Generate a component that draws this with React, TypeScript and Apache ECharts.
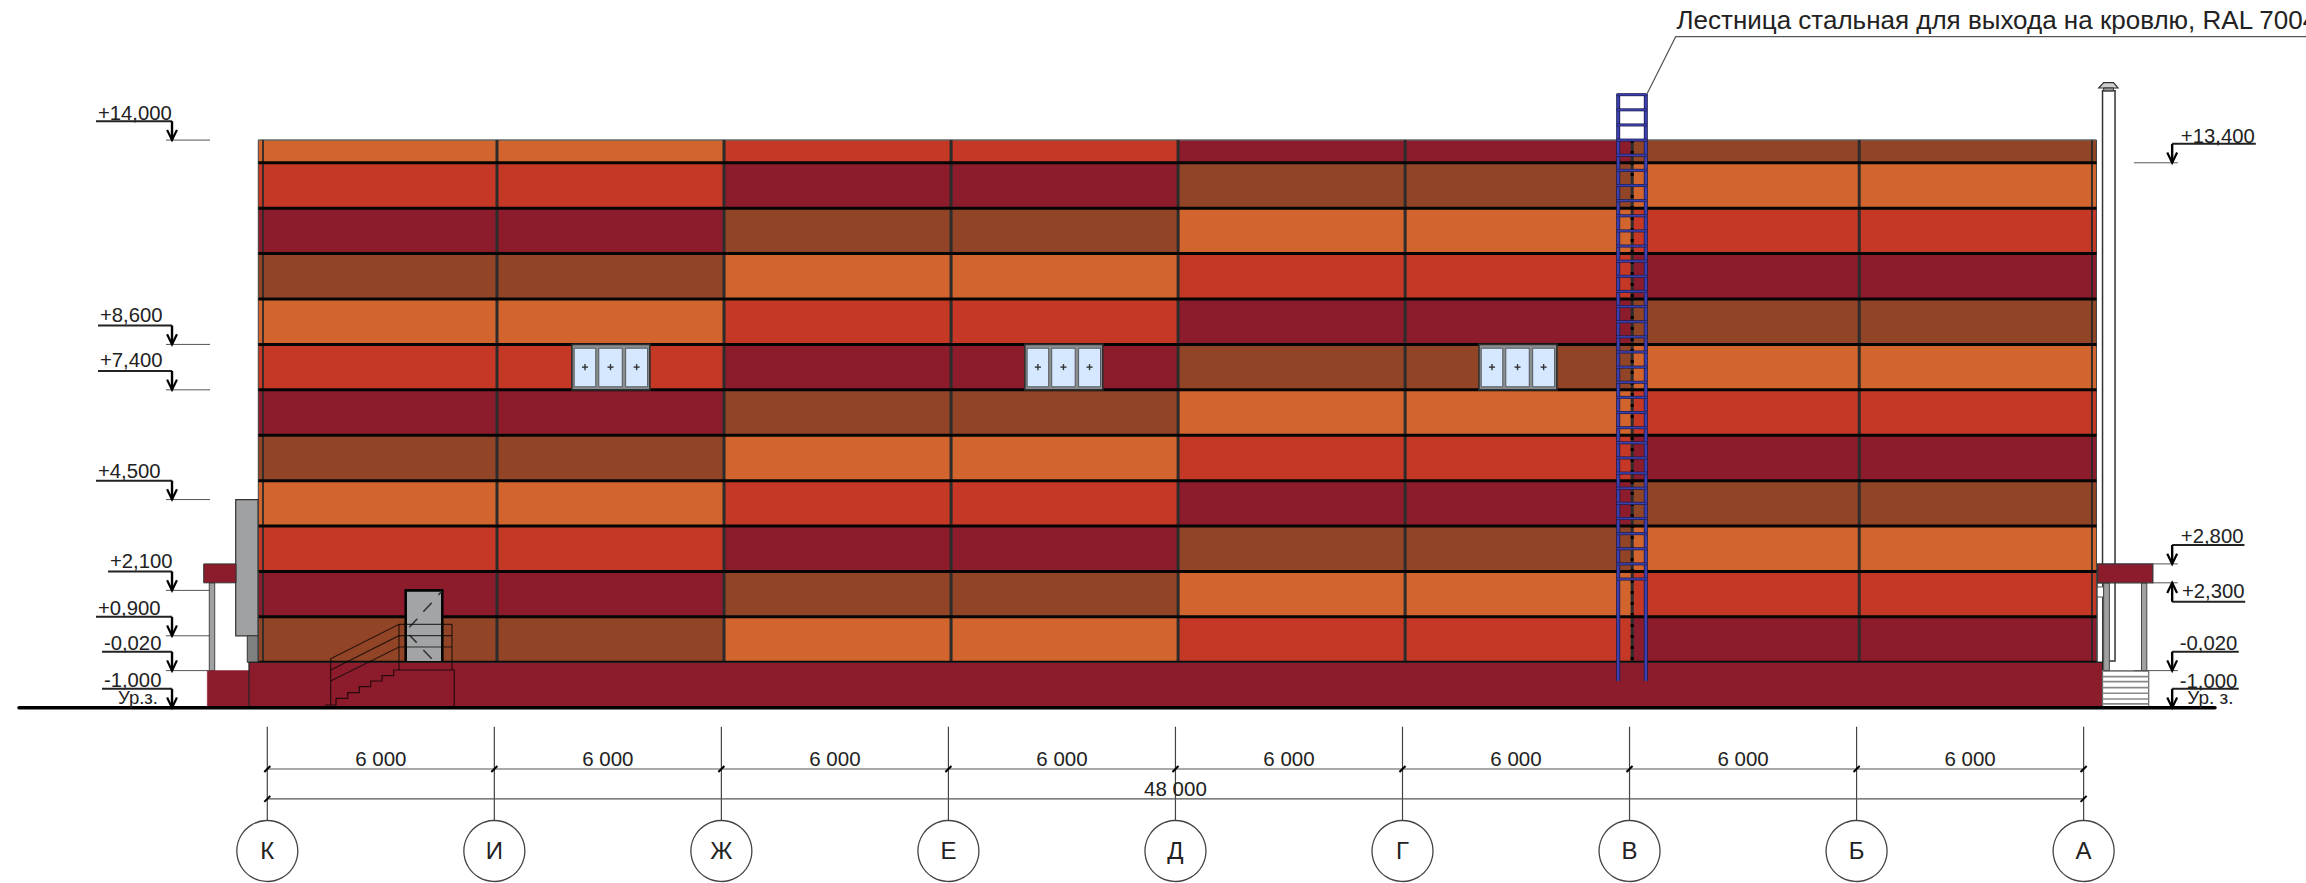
import React, { useEffect, useRef } from "react";
import * as echarts from "echarts";

// All geometry is in building metres: x = distance from axis К, y = elevation.
const FONT = '"Liberation Sans", Arial, sans-serif';
const PALETTE = { O: "#D2642D", R: "#C43825", M: "#8C1C2C", B: "#924427" } as Record<string, string>;
const paletteKeys = ["O", "R", "M", "B"];

const axisLetters = ["К", "И", "Ж", "Е", "Д", "Г", "В", "Б", "А"];
const axisPositions = [0, 6, 12, 18, 24, 30, 36, 42, 48];
const bayDimLabels = ["6 000", "6 000", "6 000", "6 000", "6 000", "6 000", "6 000", "6 000"];
const bayDimCentres = [3, 9, 15, 21, 27, 33, 39, 45];
const totalDimLabel = "48 000";

const panelLevels = [14, 13.4, 12.2, 11, 9.8, 8.6, 7.4, 6.2, 5, 3.8, 2.6, 1.4, 0.2];
const panelEdges = [-0.238, 12.07, 24.07, 36.07, 48.34];
const bayLines = [6.07, 12.07, 18.07, 24.07, 30.07, 36.07, 42.07];
const rowColours = [
  ["O", "R", "M", "B"],
  ["R", "M", "B", "O"],
  ["M", "B", "O", "R"],
  ["B", "O", "R", "M"],
  ["O", "R", "M", "B"],
  ["R", "M", "B", "O"],
  ["M", "B", "O", "R"],
  ["B", "O", "R", "M"],
  ["O", "R", "M", "B"],
  ["R", "M", "B", "O"],
  ["M", "B", "O", "R"],
  ["B", "O", "R", "M"],
];

const windowCentres = [9.08, 21.05, 33.05];
const paneOffsets = [[-0.97, -0.4], [-0.32, 0.3], [0.39, 0.97]];

const leftLabels = ["+14,000", "+8,600", "+7,400", "+4,500", "+2,100", "+0,900", "-0,020", "-1,000"];
const leftLevels = [14, 8.6, 7.4, 4.5, 2.1, 0.9, -0.02, -1];
const leftShelfStart = [-4.527, -4.474, -4.474, -4.527, -4.21, -4.527, -4.368, -4.368];
const leftTextRise = [0.53, 0.6, 0.6, 0.57, 0.58, 0.55, 0.545, 0.54];
const rightLabels = ["+13,400", "+2,800", "+2,300", "-0,020", "-1,000"];
const rightLevels = [13.4, 2.8, 2.3, -0.02, -1];
const rightShelfEnd = [52.55, 52.25, 52.27, 52.1, 52.1];
const rightLevelLineStart = [49.33, 49.83, 49.83, 49.33, 50.1];
const rightTextBaseline = [13.92, 3.36, 1.9, 0.525, -0.47];
const rightTextStart = [50.57, 50.57, 50.6, 50.54, 50.54];

const ladderRungs = [15.2, 14.8, 14.4, 14, 13.6, 13.2, 12.8, 12.4, 12, 11.6, 11.2, 10.8, 10.4, 10, 9.6, 9.2, 8.8, 8.4, 8, 7.6, 7.2, 6.8, 6.4, 6, 5.6, 5.2, 4.8, 4.4, 4, 3.6, 3.2, 2.8, 2.4];
const ladderRails = [35.7, 36.43];
const stairHatch = [-0.03, -0.18, -0.31, -0.47, -0.62, -0.77, -0.9];

const stepOutline = [
  [1.525, -0.929], [1.816, -0.929], [1.816, -0.752], [2.125, -0.752], [2.125, -0.603], [2.431, -0.603],
  [2.431, -0.445], [2.732, -0.445], [2.732, -0.295], [3.031, -0.295], [3.031, -0.154], [3.34, -0.154],
  [3.34, -0.004], [4.94, -0.004], [4.94, -0.98],
];
const handrails = [
  [[1.675, 0.295], [3.48, 1.204], [4.881, 1.204]],
  [[1.675, -0.004], [3.48, 0.903], [4.881, 0.903]],
  [[1.675, -0.295], [3.48, 0.604], [4.881, 0.604]],
];
const railPosts = [
  [1.675, 0.295, 1.675, -0.929],
  [3.48, 1.204, 3.48, -0.004],
  [4.881, 1.204, 4.881, -0.004],
];
const doorSwing = [
  [4.519, 1.978, 4.609, 2.066], [4.123, 1.537, 4.345, 1.775], [3.753, 1.125, 3.964, 1.352],
  [3.753, 0.921, 3.948, 0.718], [4.123, 0.525, 4.345, 0.295], [4.503, 0.102, 4.59, -0.004],
];

const leaderPath = [[36.46, 15.218], [37.22, 16.733], [53.9, 16.733]];
const leaderText = "Лестница стальная для выхода на кровлю, RAL 7004";

const X_MIN = -7.064, X_MAX = 53.877, Y_MIN = -5.633, Y_MAX = 17.702;

const rects = (data: number[][], style: any) => ({
  type: "custom", silent: true, clip: false, data,
  renderItem: (_p: any, api: any) => {
    const a = api.coord([api.value(0), api.value(1)]);
    const b = api.coord([api.value(2), api.value(3)]);
    return {
      type: "rect",
      shape: { x: Math.min(a[0], b[0]), y: Math.min(a[1], b[1]), width: Math.abs(a[0] - b[0]), height: Math.abs(a[1] - b[1]) },
      style: { ...style, fill: data[0].length > 4 ? PALETTE[paletteKeys[api.value(4)]] : style.fill },
    };
  },
});
const segs = (data: number[][], style: any) => ({
  type: "custom", silent: true, clip: false, data,
  renderItem: (_p: any, api: any) => {
    const a = api.coord([api.value(0), api.value(1)]);
    const b = api.coord([api.value(2), api.value(3)]);
    return { type: "line", shape: { x1: a[0], y1: a[1], x2: b[0], y2: b[1] }, style: { fill: null, ...style } };
  },
});
const polys = (paths: number[][][], style: any, kind = "polyline") => ({
  type: "custom", silent: true, clip: false, data: paths.map((p) => p[0]),
  renderItem: (p: any, api: any) => ({
    type: kind,
    shape: { points: paths[p.dataIndex].map((pt) => api.coord(pt)) },
    style: kind === "polyline" ? { fill: null, ...style } : style,
  }),
});
const circles = (data: number[][], r: number, style: any) => ({
  type: "custom", silent: true, clip: false, data,
  renderItem: (_p: any, api: any) => {
    const a = api.coord([api.value(0), api.value(1)]);
    return { type: "circle", shape: { cx: a[0], cy: a[1], r }, style };
  },
});
// y of a text item is its baseline elevation
const texts = (data: number[][], labels: string[], size: number, align: string, colour = "#222") => ({
  type: "custom", silent: true, clip: false, data,
  renderItem: (p: any, api: any) => {
    const a = api.coord([api.value(0), api.value(1)]);
    return {
      type: "text",
      style: {
        x: a[0], y: a[1] - 0.35 * size, text: labels[p.dataIndex],
        font: `${size}px ${FONT}`, fill: colour, align, verticalAlign: "middle",
      },
    };
  },
});
const arrow = (x: number, y: number, dir: number) => [[x - 0.13, y + dir * 0.27], [x, y], [x + 0.13, y + dir * 0.27]];

function buildSeries() {
  const panels: number[][] = [];
  rowColours.forEach((row, r) =>
    row.forEach((c, i) =>
      panels.push([panelEdges[i], panelLevels[r], panelEdges[i + 1], panelLevels[r + 1], paletteKeys.indexOf(c)])
    )
  );
  const joints = panelLevels.slice(1).map((y) => [-0.238, y, 48.34, y]);
  const bays = bayLines.map((x) => [x, 14, x, 0.2]);

  const frames = windowCentres.map((c) => [c - 1.03, 8.6, c + 1.03, 7.4]);
  const panes: number[][] = [];
  const crossH: number[][] = [];
  const crossV: number[][] = [];
  windowCentres.forEach((c) =>
    paneOffsets.forEach(([a, b]) => {
      panes.push([c + a, 8.5, c + b, 7.48]);
      const m = c + (a + b) / 2;
      crossH.push([m - 0.08, 8, m + 0.08, 8]);
      crossV.push([m, 8.08, m, 7.92]);
    })
  );

  const lShelf = leftLevels.map((y, i) => [leftShelfStart[i], y + 0.5, -2.518, y + 0.5]);
  const lDrop = leftLevels.map((y) => [-2.518, y + 0.5, -2.518, y]);
  const lLine = leftLevels.filter((y) => y !== -1).map((y) => [-2.677, y, -1.514, y]);
  const lArrows = leftLevels.map((y) => arrow(-2.518, y, 1));
  const lText = leftLevels.map((y, i) => [leftShelfStart[i] + 0.05, y + leftTextRise[i]]);

  const rDir = rightLevels.map((y) => (y === 2.3 ? -1 : 1));
  const rShelf = rightLevels.map((y, i) => [50.34, y + rDir[i] * 0.5, rightShelfEnd[i], y + rDir[i] * 0.5]);
  const rDrop = rightLevels.map((y, i) => [50.34, y + rDir[i] * 0.5, 50.34, y]);
  const rLine = rightLevels.filter((y) => y !== -1).map((y, i) => [rightLevelLineStart[i], y, 50.49, y]);
  const rArrows = rightLevels.map((y, i) => arrow(50.34, y, rDir[i]));
  const rText = rightLevels.map((_y, i) => [rightTextStart[i], rightTextBaseline[i]]);

  const dimVert = axisPositions.map((x) => [x, -1.502, x, -3.98]);
  const dimTicks: number[][] = [];
  axisPositions.forEach((x) => dimTicks.push([x - 0.08, -2.7, x + 0.08, -2.54]));
  dimTicks.push([-0.08, -3.49, 0.08, -3.33], [47.92, -3.49, 48.08, -3.33]);

  return [
    // chimney and gap
    rects([[48.5, 15.306, 48.83, 0.234]], { fill: "#fff", stroke: "#333", lineWidth: 1.5 }),
    polys([[[48.4, 15.377], [48.53, 15.52], [48.79, 15.52], [48.91, 15.377]]], { fill: "#cfcfcf", stroke: "#333", lineWidth: 1.2 }, "polygon"),
    rects([[48.53, 15.377, 48.79, 15.3]], { fill: "#999", stroke: "#333", lineWidth: 1 }),
    rects([[48.36, 2.3, 48.5, 0.2]], { fill: "#fff", stroke: "#333", lineWidth: 1 }),
    rects([[48.36, 2.19, 48.53, 1.925]], { fill: "#fff", stroke: "#555", lineWidth: 1 }),
    // facade
    rects(panels, { lineWidth: 0 }),
    segs([[-0.238, 14, 48.34, 14]], { stroke: "#666", lineWidth: 1.5 }),
    segs([[-0.114, 14, -0.114, 0.2], [48.22, 14, 48.22, 0.2]], { stroke: "#2a2a2a", lineWidth: 1.8 }),
    segs([[-0.238, 14, -0.238, 0.2], [48.34, 14, 48.34, 0.2]], { stroke: "#444", lineWidth: 1 }),
    segs(bays, { stroke: "#2c2c2c", lineWidth: 3 }),
    segs([[36.07, 14, 36.07, 0.2]], { stroke: "#000", lineWidth: 3, lineDash: [3, 8] }),
    segs(joints, { stroke: "#050505", lineWidth: 3 }),
    // windows
    rects(frames, { fill: "#8b8e90", stroke: "#2e2e2e", lineWidth: 1.6 }),
    rects(panes, { fill: "#D6E8FF", stroke: "#55595c", lineWidth: 1 }),
    segs(crossH, { stroke: "#333", lineWidth: 1.4 }),
    segs(crossV, { stroke: "#333", lineWidth: 1.4 }),
    // left annex
    rects([[-0.835, 4.5, -0.246, 0.9]], { fill: "#A0A1A3", stroke: "#333", lineWidth: 1.2 }),
    rects([[-0.529, 0.9, -0.246, 0.2]], { fill: "#7f8180", stroke: "#333", lineWidth: 1 }),
    rects([[-1.533, 2.3, -1.39, -0.02]], { fill: "#A0A1A3", stroke: "#444", lineWidth: 1 }),
    rects([[-1.68, 2.8, -0.827, 2.3]], { fill: PALETTE.M, stroke: "#333", lineWidth: 1 }),
    // door
    rects([[3.657, 2.1, 4.625, 0.2]], { fill: "#A3A4A6", stroke: "#050505", lineWidth: 2.6 }),
    segs(doorSwing, { stroke: "#333", lineWidth: 1.6 }),
    // plinth
    rects([[-1.586, -0.02, -0.484, -1]], { fill: PALETTE.M, stroke: PALETTE.M, lineWidth: 0.5 }),
    rects([[-0.484, 0.2, 48.5, -1]], { fill: PALETTE.M, stroke: "#222", lineWidth: 1.2 }),
    // porch stair
    polys([stepOutline], { stroke: "rgba(20,5,8,0.85)", lineWidth: 1.2 }),
    polys(handrails, { stroke: "rgba(10,5,5,0.75)", lineWidth: 1.2 }),
    segs(railPosts, { stroke: "rgba(10,5,5,0.75)", lineWidth: 1.2 }),
    // right porch
    rects([[48.5, -0.02, 49.72, -1]], { fill: "#fff", stroke: "#666", lineWidth: 1.2 }),
    segs(stairHatch.map((y) => [48.5, y, 49.72, y]), { stroke: "#888", lineWidth: 1.6 }),
    rects([[48.53, 2.3, 48.68, -0.02], [49.53, 2.3, 49.67, -0.02]], { fill: "#A0A1A3", stroke: "#444", lineWidth: 1 }),
    rects([[48.37, 2.8, 49.83, 2.3]], { fill: PALETTE.M, stroke: "#333", lineWidth: 1.2 }),
    // ladder
    segs(ladderRails.map((x) => [x, 15.218, x, -0.294]), { stroke: "#1c1c4f", lineWidth: 4 }),
    segs(ladderRails.map((x) => [x, 15.218, x, -0.294]), { stroke: "#3B40AE", lineWidth: 2.4 }),
    segs(ladderRungs.map((y) => [35.66, y, 36.45, y]), { stroke: "#1c1c4f", lineWidth: 3 }),
    segs(ladderRungs.map((y) => [35.66, y, 36.45, y]), { stroke: "#3B40AE", lineWidth: 1.6 }),
    polys([leaderPath], { stroke: "#555", lineWidth: 1.2 }),
    texts([[37.24, 16.92]], [leaderText], 26, "left"),
    // ground
    segs([[-6.56, -1, 51.47, -1]], { stroke: "#000", lineWidth: 3.6, lineCap: "round" }),
    // level marks, left
    segs(lLine, { stroke: "#555", lineWidth: 1 }),
    segs(lShelf, { stroke: "#222", lineWidth: 2 }),
    segs(lDrop, { stroke: "#000", lineWidth: 2.4 }),
    polys(lArrows, { stroke: "#000", lineWidth: 2.2 }),
    texts(lText, leftLabels, 20.3, "left"),
    texts([[-3.945, -0.9]], ["Ур.з."], 18.5, "left"),
    // level marks, right
    segs(rLine, { stroke: "#555", lineWidth: 1 }),
    segs(rShelf, { stroke: "#222", lineWidth: 2 }),
    segs(rDrop, { stroke: "#000", lineWidth: 2.4 }),
    polys(rArrows, { stroke: "#000", lineWidth: 2.2 }),
    texts(rText, rightLabels, 20.3, "left"),
    texts([[50.74, -0.9]], ["Ур. з."], 19, "left"),
    // dimensions
    segs(dimVert, { stroke: "#444", lineWidth: 1.2 }),
    segs([[0, -2.62, 48, -2.62], [0, -3.41, 48, -3.41]], { stroke: "#555", lineWidth: 1.1 }),
    segs(dimTicks, { stroke: "#000", lineWidth: 2 }),
    texts(bayDimCentres.map((x) => [x, -2.53]), bayDimLabels, 20.5, "center"),
    texts([[24, -3.33]], [totalDimLabel], 20.5, "center"),
    circles(axisPositions.map((x) => [x, -4.787]), 30.5, { fill: "#fff", stroke: "#444", lineWidth: 1.3 }),
    texts(axisPositions.map((x) => [x, -5.0]), axisLetters, 24, "center"),
  ].map((s: any, i: number) => ({ ...s, z: i + 1 }));
}

export default function App() {
  const ref = useRef<HTMLDivElement>(null);
  useEffect(() => {
    const chart = echarts.init(ref.current!, undefined, { renderer: "svg" });
    chart.setOption({
      animation: false,
      backgroundColor: "#fff",
      grid: { left: 0, right: 0, top: 0, bottom: 0 },
      xAxis: { type: "value", min: X_MIN, max: X_MAX, show: false },
      yAxis: { type: "value", min: Y_MIN, max: Y_MAX, show: false },
      series: buildSeries(),
    });
    return () => chart.dispose();
  }, []);
  return <div ref={ref} style={{ position: "absolute", left: 0, top: 0, width: 2306, height: 883 }} />;
}
